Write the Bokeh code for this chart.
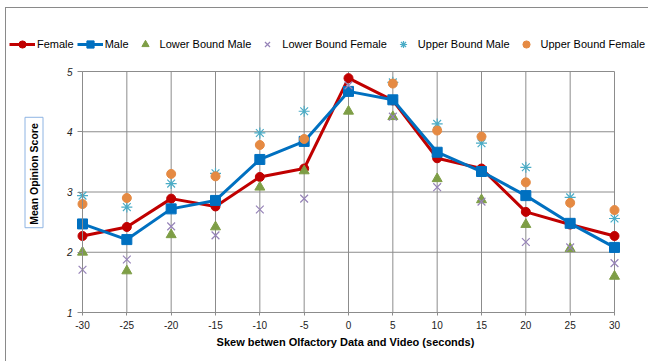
import math
from bokeh.plotting import figure
from bokeh.models import Legend, LegendItem, Label, FixedTicker, ColumnDataSource
from bokeh.embed import file_html
from bokeh.resources import INLINE

skew = [-30, -25, -20, -15, -10, -5, 0, 5, 10, 15, 20, 25, 30]
female = [2.27, 2.42, 2.89, 2.76, 3.25, 3.39, 4.89, 4.52, 3.56, 3.39, 2.67, 2.46, 2.27]
male = [2.47, 2.21, 2.72, 2.86, 3.54, 3.84, 4.67, 4.53, 3.66, 3.34, 2.94, 2.48, 2.08]
lower_male = [2.00, 1.69, 2.29, 2.42, 3.08, 3.35, 4.34, 4.25, 3.22, 2.87, 2.46, 2.06, 1.60]
lower_female = [1.71, 1.88, 2.43, 2.28, 2.71, 2.89, 4.77, 4.25, 3.08, 2.84, 2.17, 2.08, 1.82]
upper_male = [2.94, 2.75, 3.14, 3.31, 3.98, 4.34, float("nan"), 4.82, 4.13, 3.81, 3.41, 2.91, 2.56]
upper_female = [2.80, 2.90, 3.30, 3.26, 3.78, 3.88, float("nan"), 4.80, 4.02, 3.92, 3.16, 2.82, 2.70]
x_ticks = [-30, -25, -20, -15, -10, -5, 0, 5, 10, 15, 20, 25, 30]
y_ticks = [1, 2, 3, 4, 5]
x_tick_labels = ["-30", "-25", "-20", "-15", "-10", "-5", "0", "5", "10", "15", "20", "25", "30"]

RED = "#C00000"
BLUE = "#0070C0"
GREEN = "#7E9E46"
PURPLE = "#9683B8"
TEAL = "#4BACC6"
ORANGE = "#E58A43"
GRID = "#8C8C8C"
FONT = "Liberation Sans"

W, H = 643, 354                      # canvas (page minus 6px left / 8px top offset)
PLOT_L, PLOT_R, PLOT_T, PLOT_B = 76, 608, 63, 304   # plot area inside the canvas, px
x_lo, x_hi = x_ticks[0], x_ticks[-1]
y_lo, y_hi = y_ticks[0], y_ticks[-1]
sx = (x_hi - x_lo) / (PLOT_R - PLOT_L)
sy = (y_hi - y_lo) / (PLOT_B - PLOT_T)
x_range = (x_lo - PLOT_L * sx, x_hi + (W - PLOT_R) * sx)
y_range = (y_lo - (H - PLOT_B) * sy, y_hi + PLOT_T * sy)

src = ColumnDataSource(dict(x=skew, f=female, m=male, lm=lower_male, lf=lower_female,
                            um=upper_male, uf=upper_female))

p = figure(width=W, height=H, x_range=x_range, y_range=y_range,
           output_backend="svg", toolbar_location=None,
           min_border_left=0, min_border_right=0, min_border_top=0, min_border_bottom=0)
p.margin = (7, 0, 0, 5)
p.styles = {"border-left": "1px solid #8a8a8a", "border-top": "1px solid #8a8a8a"}
p.outline_line_color = None
p.background_fill_color = "white"
p.border_fill_color = "white"
p.xgrid.visible = False
p.ygrid.visible = False

for ax in (p.xaxis[0], p.yaxis[0]):
    ax.major_tick_line_color = GRID
    ax.minor_tick_line_color = None
    ax.major_tick_in = 0
    ax.major_label_text_font = FONT
    ax.major_label_text_color = "#222222"
    ax.major_label_text_font_size = "10px"

p.xaxis.ticker = FixedTicker(ticks=x_ticks)
p.yaxis.ticker = FixedTicker(ticks=y_ticks)
p.xaxis.major_label_overrides = dict(zip(x_ticks, x_tick_labels))
p.xaxis.fixed_location = y_lo
p.yaxis.fixed_location = x_lo
p.xaxis.bounds = (x_lo, x_hi)
p.yaxis.bounds = (y_lo, y_hi)
p.xaxis.axis_line_color = GRID
p.xaxis.major_tick_out = 3
p.xaxis.major_label_standoff = 5
p.yaxis.axis_line_color = GRID
p.yaxis.major_tick_out = 5
p.yaxis.major_label_standoff = 5
p.yaxis.major_label_text_font_style = "italic"
p.xaxis.axis_label = "Skew betwen Olfactory Data and  Video  (seconds)"
p.xaxis.axis_label_text_font = FONT
p.xaxis.axis_label_text_font_style = "bold"
p.xaxis.axis_label_text_font_size = "11px"
p.xaxis.axis_label_standoff = 4
p.xaxis.axis_label_text_color = "black"

p.segment(x0=x_ticks, y0=[y_lo] * len(x_ticks), x1=x_ticks, y1=[y_hi] * len(x_ticks),
          line_color=GRID, line_width=1)
p.segment(x0=[x_lo] * len(y_ticks), y0=y_ticks, x1=[x_hi] * len(y_ticks), y1=y_ticks,
          line_color=GRID, line_width=1)

rf_line = p.line("x", "f", source=src, color=RED, line_width=3)
rf_pt = p.scatter("x", "f", source=src, marker="circle", size=9, color=RED)
rm_line = p.line("x", "m", source=src, color=BLUE, line_width=3)
rm_pt = p.scatter("x", "m", source=src, marker="square", size=10, color=BLUE)
r_lm = p.scatter("x", "lm", source=src, marker="triangle", size=10, color=GREEN)
r_lf = p.scatter("x", "lf", source=src, marker="x", size=11, line_color=PURPLE, line_width=1.2)
r_um = p.scatter("x", "um", source=src, marker="asterisk", size=11, line_color=TEAL, line_width=1.2)
r_uf = p.scatter("x", "uf", source=src, marker="circle", size=9, color=ORANGE)

legend = Legend(items=[
    LegendItem(label="Female", renderers=[rf_line, rf_pt]),
    LegendItem(label="Male", renderers=[rm_line, rm_pt]),
    LegendItem(label="Lower Bound Male", renderers=[r_lm]),
    LegendItem(label="Lower Bound Female", renderers=[r_lf]),
    LegendItem(label="Upper Bound Male", renderers=[r_um]),
    LegendItem(label="Upper Bound Female", renderers=[r_uf]),
], location=(3, 309), orientation="horizontal", glyph_width=26, glyph_height=18,
    label_height=18, label_standoff=2, padding=0, margin=0, spacing=3,
    border_line_color=None, background_fill_alpha=0,
    label_text_font=FONT, label_text_font_size="11px", label_text_color="black")
p.add_layout(legend, "center")

ylab = Label(x=27.5, y=190, x_units="screen", y_units="screen", text="Mean Opinion  Score",
             angle=math.pi / 2, text_align="center", text_baseline="middle",
             text_font=FONT, text_font_style="bold", text_font_size="10.5px", text_color="black",
             border_line_color="#8EB4E3", border_line_width=1, background_fill_color="white",
             padding=3)
p.add_layout(ylab)

open("out.html", "w").write(file_html(p, INLINE))
